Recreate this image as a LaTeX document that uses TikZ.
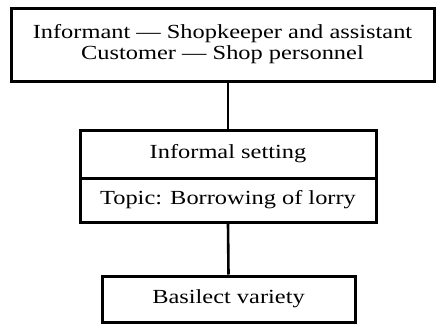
\documentclass[tikz,border=0pt]{standalone}
\usepackage{fontspec}
\setmainfont{Liberation Serif}[FakeStretch=1.22]
\begin{document}
\begin{tikzpicture}[x=1pt,y=-1pt,
  box/.style={draw,line width=3pt,inner sep=0pt,align=center,
    font=\fontsize{20}{21}\selectfont},
  link/.style={line width=2.6pt}]
\useasboundingbox (0,0) rectangle (436,324);
\node[box,minimum width=423pt,minimum height=73pt] (top) at (222.5,44.5)
  {Informant --- Shopkeeper and assistant\\Customer --- Shop personnel};
\node[box,minimum width=296pt,minimum height=48pt] (set) at (228,154)
  {Informal setting};
\node[box,minimum width=296pt,minimum height=44pt] (topic) at (228,200)
  {Topic: Borrowing of lorry};
\node[box,minimum width=253pt,minimum height=46pt] (var) at (228.5,299)
  {Basilect variety};
\draw[link] (set.north |- top.south) -- (set.north);
\draw[link] (topic.south) -- (var.north);
\end{tikzpicture}
\end{document}
